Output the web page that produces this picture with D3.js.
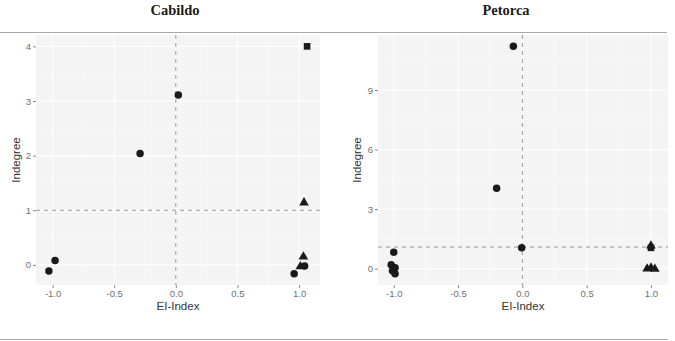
<!DOCTYPE html>
<html>
<head>
<meta charset="utf-8">
<script src="https://cdn.jsdelivr.net/npm/d3@7"></script>
<style>
	body { margin: 0; background: #fff; }
	svg { display: block; }
	.tickText { font-family: "Liberation Sans", Arial, sans-serif; font-size: 9.5px; fill: #707070; }
	.axisTitle { font-family: "Liberation Sans", Arial, sans-serif; font-size: 11.5px; fill: #333; }
	.panelTitle { font-family: "Liberation Serif", "Times New Roman", serif; font-size: 14.5px; font-weight: bold; fill: #1a1a1a; }
</style>
</head>
<body>
<div id="chartDiv"></div>
<script>
// Cabildo
const cabildoEI = [1.065, 0.02, -0.29, 1.04, 1.035, 1.01, 1.045, 0.96, -0.98, -1.03];
const cabildoIndegree = [4.0, 3.11, 2.04, 1.14, 0.15, -0.03, -0.02, -0.16, 0.08, -0.11];
const cabildoShape = ['square', 'circle', 'circle', 'triangle', 'triangle', 'triangle', 'circle', 'circle', 'circle', 'circle'];
const cabildoRefY = 1;

// Petorca
const petorcaEI = [-0.07, -0.2, -0.005, -1.0, -1.02, -0.99, -1.01, -0.99, 1.0, 1.0, 0.97, 1.0, 1.03];
const petorcaIndegree = [11.2, 4.05, 1.05, 0.83, 0.2, 0.05, -0.1, -0.25, 1.05, 1.15, 0.0, 0.05, -0.02];
const petorcaShape = ['circle', 'circle', 'circle', 'circle', 'circle', 'circle', 'circle', 'circle', 'square', 'triangle', 'triangle', 'triangle', 'triangle'];
const petorcaRefY = 1.09;

const xTicks = [-1.0, -0.5, 0.0, 0.5, 1.0];
const cabildoYTicks = [0, 1, 2, 3, 4];
const petorcaYTicks = [0, 3, 6, 9];

const width = 675, height = 341;

let svg = d3.select('#chartDiv').append('svg')
	.attr('width', width)
	.attr('height', height);

// frame lines of the figure
svg.append('line').attr('x1', 0).attr('x2', 667).attr('y1', 32.5).attr('y2', 32.5)
	.attr('stroke', '#a8a8a8').attr('stroke-width', 1.2);
svg.append('line').attr('x1', 0).attr('x2', 668).attr('y1', 339.5).attr('y2', 339.5)
	.attr('stroke', '#a8a8a8').attr('stroke-width', 1.2);

function expandedDomain(vals){
	let ext = d3.extent(vals);
	let pad = (ext[1] - ext[0]) * 0.05;
	return [ext[0] - pad, ext[1] + pad];
}

function drawPanel(cfg){
	let xScale = d3.scaleLinear().domain(expandedDomain(cfg.ei)).range([cfg.left, cfg.right]);
	let yScale = d3.scaleLinear().domain(expandedDomain(cfg.indeg)).range([cfg.bottom, cfg.top]);

	let g = svg.append('g').attr('class', 'panel');

	// title
	g.append('text')
		.attr('class', 'panelTitle')
		.attr('x', cfg.titleX)
		.attr('y', 15)
		.attr('text-anchor', 'middle')
		.text(cfg.title);

	// panel background
	g.append('rect')
		.attr('x', cfg.left).attr('y', cfg.top)
		.attr('width', cfg.right - cfg.left)
		.attr('height', cfg.bottom - cfg.top)
		.attr('fill', '#f4f4f4');

	// minor grid
	let xMinor = xTicks.slice(0, -1).map((t, i) => (t + xTicks[i + 1]) / 2);
	let yStep = cfg.yTicks[1] - cfg.yTicks[0];
	let yMinor = cfg.yTicks.map(t => t + yStep / 2)
		.filter(v => yScale(v) > cfg.top);
	g.selectAll('.xMinor').data(xMinor).join('line')
		.attr('x1', d => xScale(d)).attr('x2', d => xScale(d))
		.attr('y1', cfg.top).attr('y2', cfg.bottom)
		.attr('stroke', '#fbfbfb').attr('stroke-width', 0.6);
	g.selectAll('.yMinor').data(yMinor).join('line')
		.attr('y1', d => yScale(d)).attr('y2', d => yScale(d))
		.attr('x1', cfg.left).attr('x2', cfg.right)
		.attr('stroke', '#fbfbfb').attr('stroke-width', 0.6);

	// major grid
	g.selectAll('.xMajor').data(xTicks).join('line')
		.attr('x1', d => xScale(d)).attr('x2', d => xScale(d))
		.attr('y1', cfg.top).attr('y2', cfg.bottom)
		.attr('stroke', '#fff').attr('stroke-width', 1.1);
	g.selectAll('.yMajor').data(cfg.yTicks).join('line')
		.attr('y1', d => yScale(d)).attr('y2', d => yScale(d))
		.attr('x1', cfg.left).attr('x2', cfg.right)
		.attr('stroke', '#fff').attr('stroke-width', 1.1);

	// axes
	let xAxis = g.append('g')
		.attr('transform', `translate(0,${cfg.bottom})`)
		.call(d3.axisBottom(xScale).tickValues(xTicks).tickFormat(d3.format('.1f')).tickSizeOuter(0).tickSize(3).tickPadding(2));
	let yAxis = g.append('g')
		.attr('transform', `translate(${cfg.left},0)`)
		.call(d3.axisLeft(yScale).tickValues(cfg.yTicks).tickFormat(d3.format('d')).tickSizeOuter(0).tickSize(3).tickPadding(2));
	[xAxis, yAxis].forEach(a => {
		a.select('.domain').remove();
		a.selectAll('line').attr('stroke', '#8a8a8a');
		a.selectAll('text').attr('class', 'tickText').attr('fill', null)
			.attr('font-size', null).attr('font-family', null);
	});
	xAxis.selectAll('text').text(d => d3.format('.1f')(d).replace('−', '-'));

	// axis titles
	g.append('text')
		.attr('class', 'axisTitle')
		.attr('x', (cfg.left + cfg.right) / 2)
		.attr('y', cfg.bottom + 25)
		.attr('text-anchor', 'middle')
		.text('EI-Index');
	g.append('text')
		.attr('class', 'axisTitle')
		.attr('transform', `translate(${cfg.yTitleX},${(cfg.top + cfg.bottom) / 2}) rotate(-90)`)
		.attr('text-anchor', 'middle')
		.text('Indegree');

	// reference lines
	g.append('line')
		.attr('x1', cfg.left).attr('x2', cfg.right)
		.attr('y1', yScale(cfg.refY)).attr('y2', yScale(cfg.refY))
		.attr('stroke', '#8a8a8a').attr('stroke-width', 0.9).attr('stroke-dasharray', '4,4');
	g.append('line')
		.attr('x1', xScale(0)).attr('x2', xScale(0))
		.attr('y1', cfg.top).attr('y2', cfg.bottom)
		.attr('stroke', '#8a8a8a').attr('stroke-width', 0.9).attr('stroke-dasharray', '4,4');

	// points
	let points = cfg.ei.map((d, i) => ({ ei: d, indeg: cfg.indeg[i], shape: cfg.shape[i] }));
	let symbolType = { circle: d3.symbolCircle, square: d3.symbolSquare, triangle: d3.symbolTriangle };
	let symbolSize = { circle: 44, square: 44, triangle: 40 };
	g.selectAll('.pt').data(points).join('path')
		.attr('class', 'pt')
		.attr('transform', d => `translate(${xScale(d.ei)},${yScale(d.indeg)})`)
		.attr('d', d => d3.symbol().type(symbolType[d.shape]).size(symbolSize[d.shape])())
		.attr('fill', '#1a1a1a');
}

drawPanel({
	title: 'Cabildo', titleX: 175,
	ei: cabildoEI, indeg: cabildoIndegree, shape: cabildoShape,
	refY: cabildoRefY, yTicks: cabildoYTicks,
	left: 36, right: 320, top: 35, bottom: 285, yTitleX: 20
});

drawPanel({
	title: 'Petorca', titleX: 506,
	ei: petorcaEI, indeg: petorcaIndegree, shape: petorcaShape,
	refY: petorcaRefY, yTicks: petorcaYTicks,
	left: 378, right: 668, top: 35, bottom: 285, yTitleX: 361
});
</script>
</body>
</html>
